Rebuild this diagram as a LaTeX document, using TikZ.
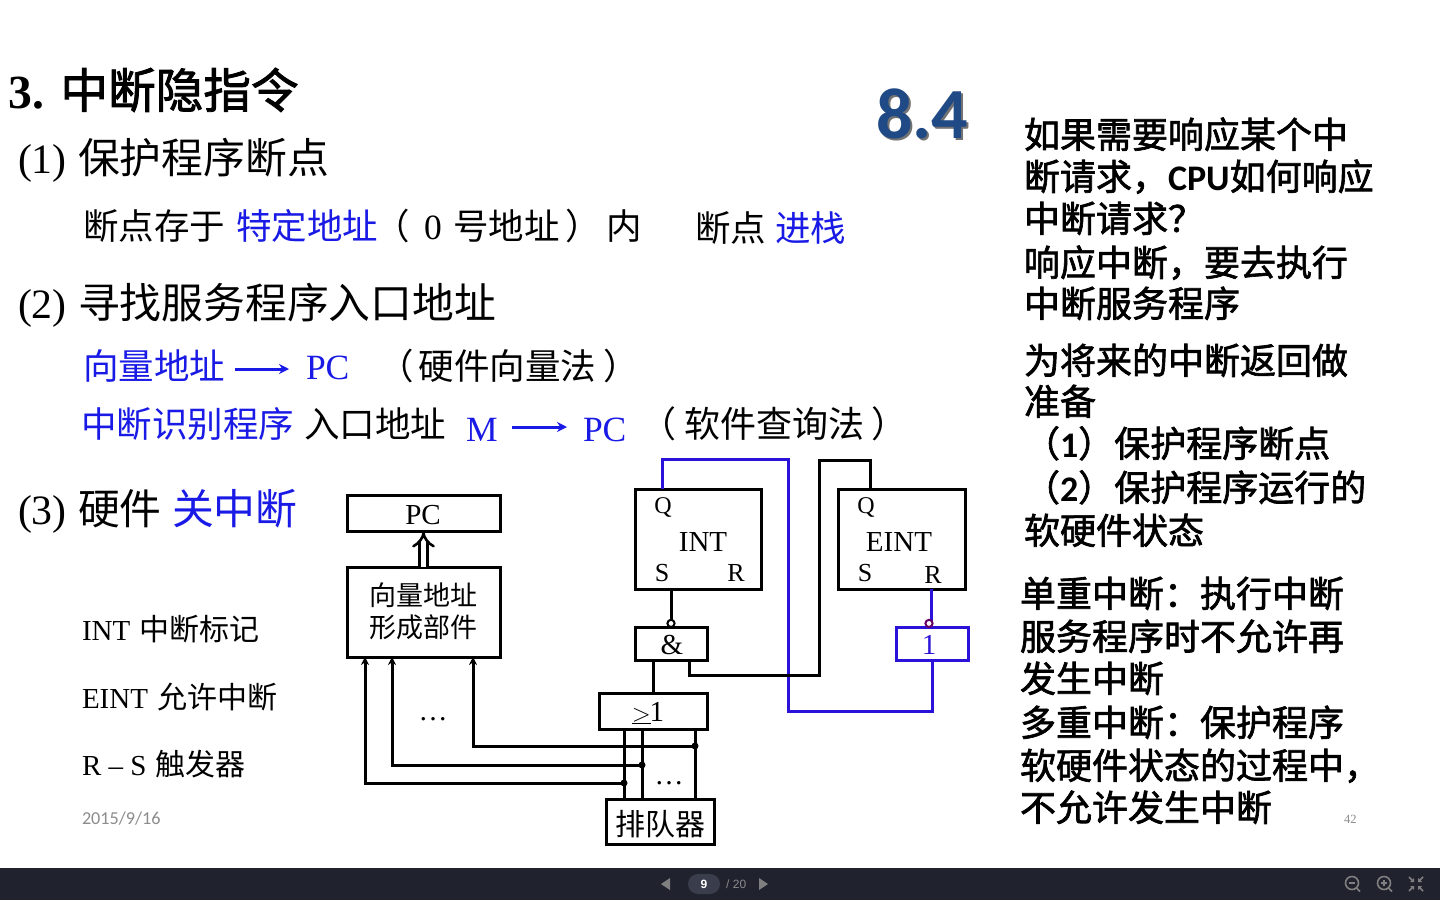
\documentclass[tikz,border=0pt]{standalone}
\usepackage{fontspec}
\setmainfont{Liberation Serif}
\setsansfont{Liberation Sans}
\newfontfamily\cjk{Noto Sans CJK SC}
\newfontfamily\cjkheavy[FakeBold=1.8]{Noto Sans CJK SC}
\newfontfamily\lat{Carlito}
\usetikzlibrary{
    arrows.meta,
    calc,
    positioning
}
\definecolor{penblue}{HTML}{1A1AE6}
\definecolor{wireblue}{HTML}{2A12D8}
\definecolor{secblue}{HTML}{1F4A85}
\definecolor{barbg}{HTML}{20222E}
\definecolor{pillbg}{HTML}{3A3D4C}
\definecolor{stampgray}{HTML}{8C8C8C}
\newcommand{\fs}[1]{\fontsize{#1}{#1}\selectfont}
\newcommand{\zh}[1]{{\cjk #1}}
\tikzset{
    txt/.style={anchor=base west, inner sep=0pt, outer sep=0pt},
    hblue/.style={text=penblue},
    big/.style={txt, font=\fs{41.8}},
    mid/.style={txt, font=\fs{35.5}},
    small/.style={txt, font=\fs{29}},
    side/.style={txt, font=\fs{36}},
    box/.style={draw=black, line width=3pt, outer sep=0pt, inner sep=0pt, font=\fs{29}},
    bluebox/.style={box, draw=wireblue},
    pinlbl/.style={inner sep=0pt, outer sep=0pt, font=\fs{26}},
    boxlbl/.style={inner sep=0pt, outer sep=0pt, font=\fs{29}},
    wire/.style={line width=3pt, black},
    bluewire/.style={line width=3pt, wireblue},
    feed/.style={wire, -{Stealth[length=8pt,width=8pt]}},
    flowarrow/.style={line width=3pt, penblue, -{Stealth[length=10pt,width=10pt]}},
    tap/.style={circle, fill=black, inner sep=0pt, minimum size=7pt},
    barlbl/.style={inner sep=0pt, font=\fs{12}\sffamily}
}
\begin{document}
\begin{tikzpicture}[x=1pt, y=-1pt]
    \useasboundingbox (0,0) rectangle (1440,900);
    \fill[white] (0,0) rectangle (1440,900);
    % left column
    \node[txt, font=\fs{47.6}\bfseries] (title) at (9,108) {3. {\mdseries\cjkheavy 中断隐指令}};
    \node[big] (one) at (18,173) {(1)};
    \node[big] (onetxt) at (78,173) {\zh{保护程序断点}};
    \node[mid] (bpa) at (83,239) {\zh{断点存于}};
    \node[mid, hblue] (bpb) at (236,239) {\zh{特定地址}};
    \node[mid] (bpc) at (374,239) {\zh{（}};
    \node[mid] (bpd) at (424,239) {0};
    \node[mid] (bpe) at (453,239) {\zh{号地址}};
    \node[mid] (bpee) at (565,239) {\zh{）}};
    \node[mid] (bpf) at (606,239) {\zh{内}};
    \node[mid] (bpg) at (695,241) {\zh{断点}};
    \node[mid, hblue] (bph) at (775,241) {\zh{进栈}};
    \node[big] (two) at (18,318) {(2)};
    \node[big] (twotxt) at (78,318) {\zh{寻找服务程序入口地址}};
    \node[mid, hblue] (veca) at (83,379) {\zh{向量地址}};
    \node[mid, hblue] (vecb) at (306,379) {PC};
    \node[mid] (vecc) at (378,379) {\zh{（}};
    \node[mid] (vecd) at (418.5,379) {\zh{硬件向量法}};
    \node[mid] (vece) at (603,379) {\zh{）}};
    \node[mid, hblue] (isra) at (81,437) {\zh{中断识别程序}};
    \node[mid] (isrb) at (304,437) {\zh{入口地址}};
    \node[mid, hblue] (isrc) at (466,441) {M};
    \node[mid, hblue] (isrd) at (583,441) {PC};
    \node[mid, font=\fs{36}] (isre) at (640,437) {\zh{（}};
    \node[mid, font=\fs{36}] (isrf) at (684,437) {\zh{软件查询法}};
    \node[mid, font=\fs{36}] (isrg) at (871,437) {\zh{）}};
    \node[big] (three) at (18,524) {(3)};
    \node[big] (threetxt) at (78,524) {\zh{硬件}};
    \node[big, hblue] (threeoff) at (172,524) {\zh{关中断}};
    \node[small] (intlbl) at (82,640) {INT\hspace{2pt} {\fs{30}\zh{中断标记}}};
    \node[small] (eintlbl) at (82,708) {EINT\hspace{2pt} {\fs{30}\zh{允许中断}}};
    \node[small] (rslbl) at (82,775) {R -- S\hspace{2pt} {\fs{30}\zh{触发器}}};
    \node[txt, text=stampgray, font=\fs{18.2}\lat] (datelbl) at (82,824) {2015/9/16};
    \node[txt, text=stampgray, font=\fs{12.5}] (pagelbl) at (1344,823) {42};
    % arrows in the text lines
    \coordinate (vecfrom) at (235,369);
    \coordinate (vecto) at (289,369);
    \coordinate (isrfrom) at (512,427);
    \coordinate (isrto) at (567,427);
    \draw[flowarrow] (vecfrom) -- (vecto);
    \draw[flowarrow] (isrfrom) -- (isrto);
    % section number
    \node[txt, text=black!55, font=\fs{72}\lat\bfseries] (secshadow) at (878,140) {8.4};
    \node[txt, text=secblue, font=\fs{72}\lat\bfseries] (secnum) at (876,138) {8.4};
    % right column
    \foreach \x/\y/\t [count=\i] in {
        1024/148/{如果需要响应某个中},
        1024/190/{断请求，{\lat\bfseries CPU}如何响应},
        1024/232/{中断请求？},
        1024/276/{响应中断，要去执行},
        1024/317/{中断服务程序},
        1024/374/{为将来的中断返回做},
        1024/415/{准备},
        1024/457/{（{\lat\bfseries 1}）保护程序断点},
        1024/501/{（{\lat\bfseries 2}）保护程序运行的},
        1024/544/{软硬件状态},
        1020/607/{单重中断：执行中断},
        1020/650/{服务程序时不允许再},
        1020/692/{发生中断},
        1020/736/{多重中断：保护程序},
        1020/779/{软硬件状态的过程中，},
        1020/821/{不允许发生中断}}{
        \node[side] (sideline\i) at (\x,\y) {\cjkheavy \t};
    }
    % boxes
    \node[box, minimum width=153pt, minimum height=36pt] (pcbox) at (423.5,513) {};
    \node[box, minimum width=153pt, minimum height=90pt] (vecbox) at (423.5,612) {};
    \node[box, minimum width=126pt, minimum height=100pt] (intbox) at (698,539) {};
    \node[box, minimum width=127pt, minimum height=100pt] (eintbox) at (901.5,539) {};
    \node[box, minimum width=72pt, minimum height=33pt] (andbox) at (671,643.5) {};
    \node[bluebox, minimum width=72pt, minimum height=33pt] (notbox) at (932,643.5) {};
    \node[box, minimum width=108pt, minimum height=36pt] (orbox) at (653,711) {};
    \node[box, minimum width=108pt, minimum height=45pt] (queuebox) at (660,821.5) {};
    % box labels
    \node[boxlbl] (pclbl) at (423,515) {PC};
    \node[boxlbl, font=\fs{27}] (veclbla) at (423.5,595) {\zh{向量地址}};
    \node[boxlbl, font=\fs{27}] (veclblb) at (423.5,627) {\zh{形成部件}};
    \node[boxlbl] (andlbl) at (672,645) {\&};
    \node[boxlbl, text=wireblue] (notlbl) at (929,645) {1};
    \node[boxlbl] (orlbl) at (648,713) {$\underline{>}$\hspace{-1pt}1};
    \node[boxlbl, font=\fs{30}] (queuelbl) at (660,824) {\zh{排队器}};
    % flip-flop pins
    \node[pinlbl, font=\fs{24}] (intq) at (663,507) {Q};
    \node[boxlbl] (intname) at (703,542) {INT};
    \node[pinlbl] (ints) at (662,573) {S};
    \node[pinlbl] (intr) at (736,573) {R};
    \node[pinlbl, font=\fs{24}] (eintq) at (866,507) {Q};
    \node[boxlbl] (eintname) at (899,542) {EINT};
    \node[pinlbl] (eints) at (865,573) {S};
    \node[pinlbl] (eintr) at (933,575) {R};
    % wires
    \draw[line width=2.6pt, double=white, double distance=5pt, -{Implies[length=6pt]}]
        (vecbox.north) -- ([yshift=-1pt]pcbox.south);
    \draw[bluewire] ([xshift=-36pt]intbox.north) |- ++(126,-30) -- (788,711) -| (notbox.south);
    \draw[wire] ([xshift=-31.5pt]eintbox.north) |- (819,460) |- (689,675) -- ([xshift=18pt]andbox.south);
    \draw[wire] ([xshift=-27pt]intbox.south) -- ([yshift=5pt]andbox.north);
    \draw[black, fill=white, line width=2pt] ([yshift=3.6pt]andbox.north) circle (3.6pt);
    \draw[bluewire] ([xshift=29.5pt]eintbox.south) -- ([yshift=6pt,xshift=-1pt]notbox.north);
    \draw[draw=violet!80!black, fill=white, line width=2pt] ([xshift=-3pt,yshift=3.6pt]notbox.north) circle (3.6pt);
    \draw[wire] (653,660) -- (orbox.north);
    \coordinate (tapa) at (624,783);
    \coordinate (tapb) at (642,765);
    \coordinate (tapc) at (695,746);
    \draw[wire] (orbox.south -| tapa) -- (queuebox.north -| tapa);
    \draw[wire] (orbox.south -| tapb) -- (queuebox.north -| tapb);
    \draw[wire] (orbox.south -| tapc) -- (queuebox.north -| tapc);
    \draw[feed] (tapa) -| ([xshift=-58.5pt]vecbox.south);
    \draw[feed] (tapb) -| ([xshift=-31.5pt]vecbox.south);
    \draw[feed] (tapc) -| ([xshift=49.5pt]vecbox.south);
    \node[tap] (dota) at (tapa) {};
    \node[tap] (dotb) at (tapb) {};
    \node[tap] (dotc) at (tapc) {};
    \node[inner sep=0pt, font=\fs{29}] (dotsleft) at (433,719) {\dots};
    \node[inner sep=0pt, font=\fs{29}] (dotsright) at (669,783) {\dots};
    % viewer bar
    \fill[barbg] (0,868) rectangle (1440,900);
    \fill[pillbg, rounded corners=10pt] (688,874) rectangle (720,894);
    \node[barlbl, text=white, font=\fs{12}\sffamily\bfseries] (pagenum) at (704,884) {9};
    \node[barlbl, text=black!45, anchor=west] (pagetotal) at (726,884) {/ 20};
    \fill[black!50] (670,878) -- (670,890) -- (661,884) -- cycle;
    \fill[black!50] (759,878) -- (759,890) -- (768,884) -- cycle;
    \foreach \x/\s in {1352/0, 1384/1}{
        \draw[black!50, line width=1.6pt] (\x,883) circle (6.5pt);
        \draw[black!50, line width=1.6pt] (\x+4.5,888) -- (\x+8,891.5);
        \draw[black!50, line width=1.2pt] (\x-3,883) -- (\x+3,883);
    }
    \draw[black!50, line width=1.2pt] (1384,880) -- (1384,886);
    \foreach \sx/\sy in {-1/-1, 1/-1, -1/1, 1/1}{
        \draw[black!50, line width=1.6pt] (1416+\sx*7,884+\sy*7) -- (1416+\sx*3,884+\sy*3);
        \fill[black!50] (1416+\sx*2,884+\sy*2) -- (1416+\sx*6,884+\sy*2) -- (1416+\sx*2,884+\sy*6) -- cycle;
    }
\end{tikzpicture}
\end{document}
